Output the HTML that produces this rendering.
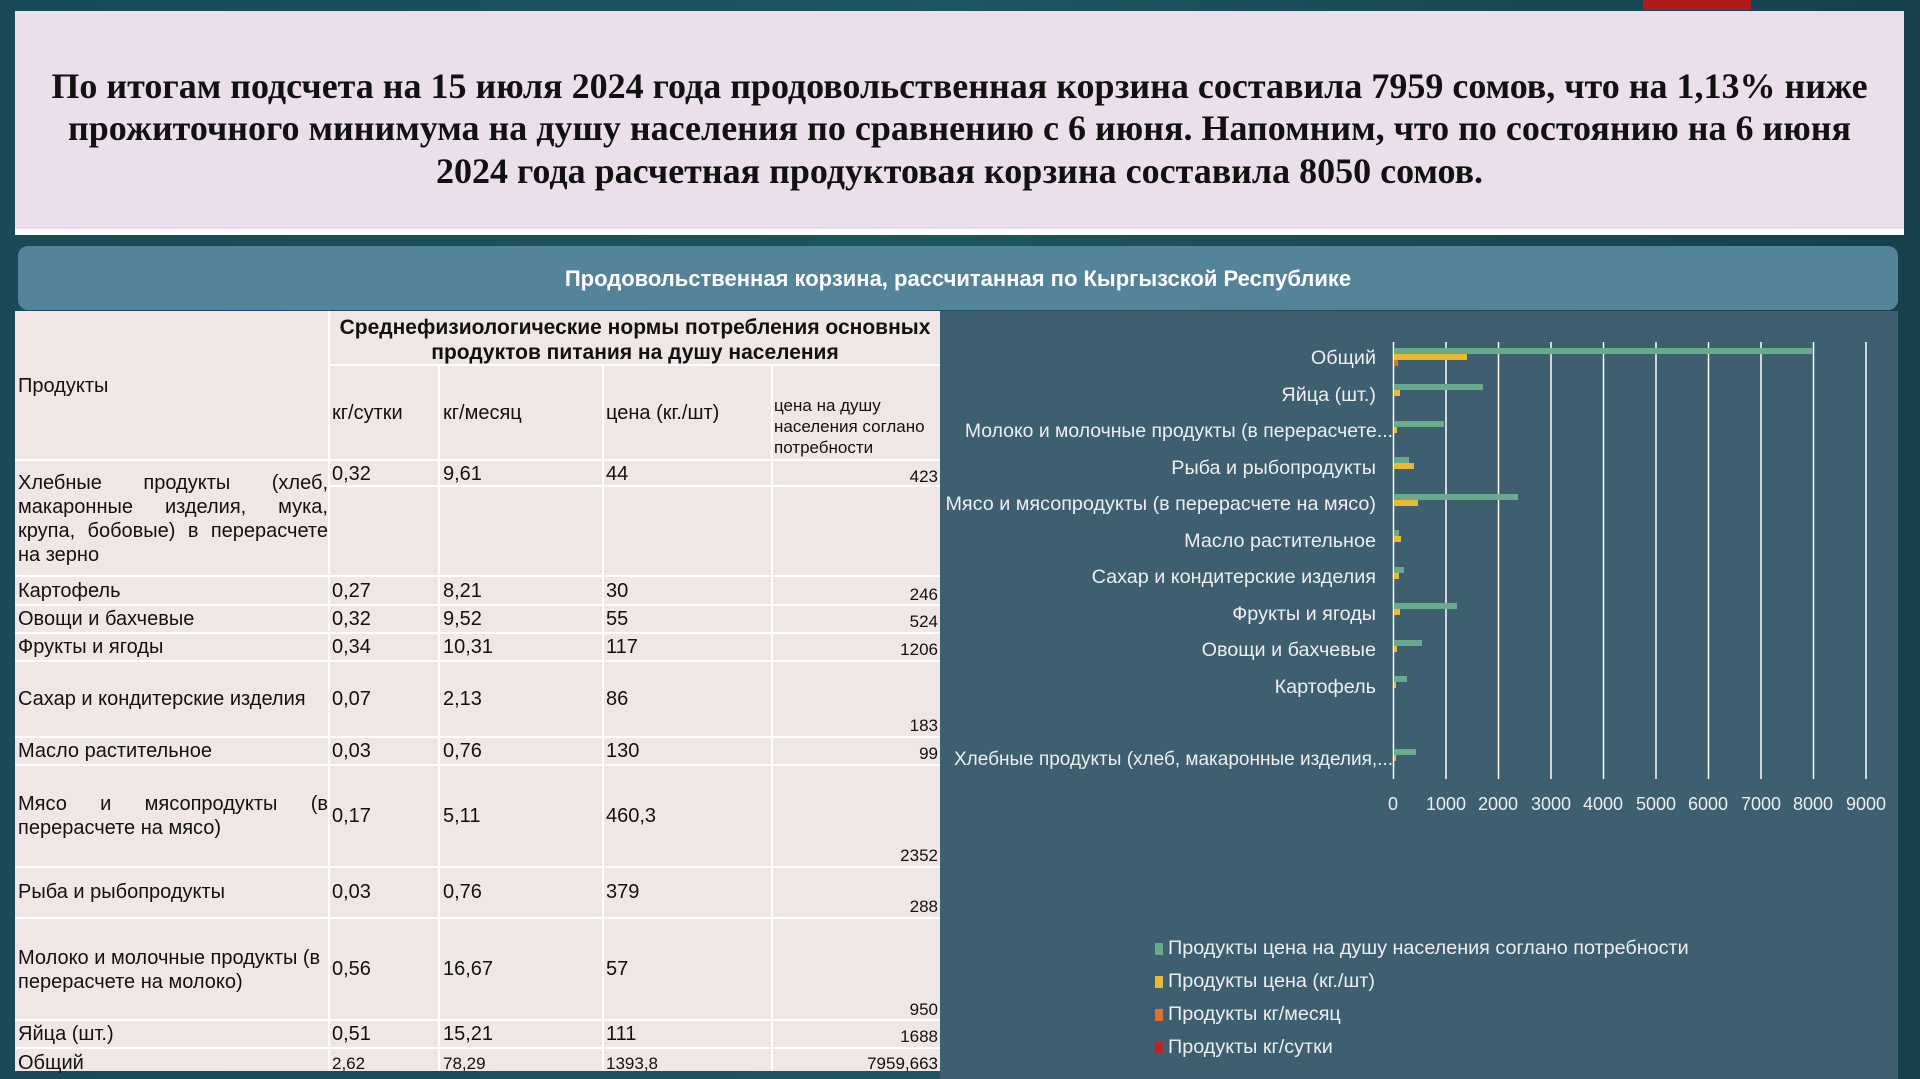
<!DOCTYPE html>
<html><head><meta charset="utf-8"><style>
*{margin:0;padding:0;box-sizing:border-box}
body{width:1920px;height:1079px;overflow:hidden;position:relative;background:linear-gradient(90deg,#184a58,#1d5560 50%,#163f4c);font-family:"Liberation Sans",sans-serif}
.a{position:absolute;white-space:nowrap}
#hdr{left:15px;top:11px;width:1889px;height:224px;background:#ebdfeb;border-bottom:6px solid #fff}
#hdr div{position:absolute;left:0;width:100%;text-align:center;font:bold 36px "Liberation Serif",serif;color:#111}
#band{left:18px;top:246px;width:1880px;height:64px;background:#548499;border-radius:10px;color:#fff;font:bold 22px "Liberation Sans",sans-serif;text-align:center;line-height:66px}
#tbl{left:15px;top:311px;width:925px;height:760px;background:#f0e6e6}
.t{position:absolute;font-size:20px;color:#111;white-space:nowrap}
.hl{position:absolute;background:#fff;height:2px}
.vl{position:absolute;background:#fff;width:2px}
#chart{left:940px;top:311px;width:958px;height:768px;background:#3d5f70}
.cl{position:absolute;right:544px;font-size:19.8px;color:#eee;text-align:right;white-space:nowrap}
.lg{position:absolute;left:1168px;font-size:19.8px;color:#eee;white-space:nowrap}
.mk{position:absolute;left:1155px;width:8px;height:12px}
</style></head><body>
<div class="a" style="left:1643px;top:0;width:108px;height:10px;background:#b01a1a"></div>
<div class="a" id="hdr">
<div style="top:54px">По итогам подсчета на 15 июля 2024 года продовольственная корзина составила 7959 сомов, что на 1,13% ниже</div>
<div style="top:96px">прожиточного минимума на душу населения по сравнению с 6 июня. Напомним, что по состоянию на 6 июня</div>
<div style="top:139px">2024 года расчетная продуктовая корзина составила 8050 сомов.</div>
</div>
<div class="a" id="band">Продовольственная корзина, рассчитанная по Кыргызской Республике</div>
<div class="a" id="tbl"></div>
<div class="a" id="chart"></div>
<div class="hl" style="left:328px;top:364px;width:612px"></div>
<div class="hl" style="left:15px;top:459px;width:925px"></div>
<div class="hl" style="left:328px;top:485px;width:612px"></div>
<div class="hl" style="left:15px;top:575px;width:925px"></div>
<div class="hl" style="left:15px;top:604px;width:925px"></div>
<div class="hl" style="left:15px;top:632px;width:925px"></div>
<div class="hl" style="left:15px;top:660px;width:925px"></div>
<div class="hl" style="left:15px;top:736px;width:925px"></div>
<div class="hl" style="left:15px;top:764px;width:925px"></div>
<div class="hl" style="left:15px;top:866px;width:925px"></div>
<div class="hl" style="left:15px;top:917px;width:925px"></div>
<div class="hl" style="left:15px;top:1019px;width:925px"></div>
<div class="hl" style="left:15px;top:1047px;width:925px"></div>
<div class="vl" style="left:328px;top:311px;height:760px"></div>
<div class="vl" style="left:438px;top:365px;height:706px"></div>
<div class="vl" style="left:602px;top:365px;height:706px"></div>
<div class="vl" style="left:771px;top:365px;height:706px"></div>
<div class="t" style="left:330px;top:315px;width:610px;text-align:center;font-weight:bold;font-size:21px;line-height:25px">Среднефизиологические нормы потребления основных<br>продуктов питания на душу населения</div>
<div class="t" style="left:18px;top:375px">Продукты</div>
<div class="t" style="left:332px;top:402px">кг/сутки</div>
<div class="t" style="left:443px;top:402px">кг/месяц</div>
<div class="t" style="left:606px;top:402px">цена (кг./шт)</div>
<div class="t" style="left:774px;top:395px;font-size:17px;line-height:21px">цена на душу<br>населения соглано<br>потребности</div>
<div class="t" style="left:18px;top:471px;width:310px;line-height:24px;white-space:normal;text-align:justify;text-align-last:left">Хлебные продукты (хлеб, макаронные изделия, мука, крупа, бобовые) в перерасчете на зерно</div>
<div class="t" style="left:332px;top:463px">0,32</div><div class="t" style="left:443px;top:463px">9,61</div><div class="t" style="left:606px;top:463px">44</div><div class="t" style="right:982px;top:467px;font-size:17px">423</div>
<div class="t" style="left:18px;top:580px">Картофель</div><div class="t" style="left:332px;top:580px">0,27</div><div class="t" style="left:443px;top:580px">8,21</div><div class="t" style="left:606px;top:580px">30</div><div class="t" style="right:982px;top:585px;font-size:17px">246</div>
<div class="t" style="left:18px;top:608px">Овощи и бахчевые</div><div class="t" style="left:332px;top:608px">0,32</div><div class="t" style="left:443px;top:608px">9,52</div><div class="t" style="left:606px;top:608px">55</div><div class="t" style="right:982px;top:612px;font-size:17px">524</div>
<div class="t" style="left:18px;top:636px">Фрукты и ягоды</div><div class="t" style="left:332px;top:636px">0,34</div><div class="t" style="left:443px;top:636px">10,31</div><div class="t" style="left:606px;top:636px">117</div><div class="t" style="right:982px;top:640px;font-size:17px">1206</div>
<div class="t" style="left:18px;top:688px">Сахар и кондитерские изделия</div><div class="t" style="left:332px;top:688px">0,07</div><div class="t" style="left:443px;top:688px">2,13</div><div class="t" style="left:606px;top:688px">86</div><div class="t" style="right:982px;top:716px;font-size:17px">183</div>
<div class="t" style="left:18px;top:740px">Масло растительное</div><div class="t" style="left:332px;top:740px">0,03</div><div class="t" style="left:443px;top:740px">0,76</div><div class="t" style="left:606px;top:740px">130</div><div class="t" style="right:982px;top:744px;font-size:17px">99</div>
<div class="t" style="left:18px;top:792px;width:310px;line-height:24px;white-space:normal;text-align:justify;text-align-last:left">Мясо и мясопродукты (в перерасчете на мясо)</div>
<div class="t" style="left:332px;top:805px">0,17</div><div class="t" style="left:443px;top:805px">5,11</div><div class="t" style="left:606px;top:805px">460,3</div><div class="t" style="right:982px;top:846px;font-size:17px">2352</div>
<div class="t" style="left:18px;top:881px">Рыба и рыбопродукты</div><div class="t" style="left:332px;top:881px">0,03</div><div class="t" style="left:443px;top:881px">0,76</div><div class="t" style="left:606px;top:881px">379</div><div class="t" style="right:982px;top:897px;font-size:17px">288</div>
<div class="t" style="left:18px;top:946px;width:320px;line-height:24px;white-space:normal">Молоко и молочные продукты (в перерасчете на молоко)</div>
<div class="t" style="left:332px;top:958px">0,56</div><div class="t" style="left:443px;top:958px">16,67</div><div class="t" style="left:606px;top:958px">57</div><div class="t" style="right:982px;top:1000px;font-size:17px">950</div>
<div class="t" style="left:18px;top:1023px">Яйца (шт.)</div><div class="t" style="left:332px;top:1023px">0,51</div><div class="t" style="left:443px;top:1023px">15,21</div><div class="t" style="left:606px;top:1023px">111</div><div class="t" style="right:982px;top:1027px;font-size:17px">1688</div>
<div class="t" style="left:18px;top:1052px">Общий</div><div class="t" style="left:332px;top:1054px;font-size:17px">2,62</div><div class="t" style="left:443px;top:1054px;font-size:17px">78,29</div><div class="t" style="left:606px;top:1054px;font-size:17px">1393,8</div><div class="t" style="right:982px;top:1054px;font-size:17px">7959,663</div>
<svg class="a" style="left:0;top:0" width="1920" height="1079">
<g stroke="#fff" stroke-width="1.5">
<line x1="1393.5" y1="342" x2="1393.5" y2="779"/><line x1="1446" y1="342" x2="1446" y2="779"/><line x1="1498.5" y1="342" x2="1498.5" y2="779"/><line x1="1551" y1="342" x2="1551" y2="779"/><line x1="1603.5" y1="342" x2="1603.5" y2="779"/><line x1="1656" y1="342" x2="1656" y2="779"/><line x1="1708.5" y1="342" x2="1708.5" y2="779"/><line x1="1761" y1="342" x2="1761" y2="779"/><line x1="1813.5" y1="342" x2="1813.5" y2="779"/><line x1="1866" y1="342" x2="1866" y2="779"/>
</g>
<g font-family="Liberation Sans" font-size="18" fill="#eee" text-anchor="middle">
<text x="1393" y="810">0</text><text x="1446" y="810">1000</text><text x="1498" y="810">2000</text><text x="1551" y="810">3000</text><text x="1603" y="810">4000</text><text x="1656" y="810">5000</text><text x="1708" y="810">6000</text><text x="1761" y="810">7000</text><text x="1813" y="810">8000</text><text x="1866" y="810">9000</text>
</g>
<g>
<rect x="1394" y="348" width="418" height="6" fill="#6aaa8c"/><rect x="1394" y="354" width="73" height="6" fill="#e9b92f"/><rect x="1394" y="360" width="4" height="6" fill="#e2702a"/>
<rect x="1394" y="384" width="89" height="6" fill="#6aaa8c"/><rect x="1394" y="390" width="6" height="6" fill="#e9b92f"/>
<rect x="1394" y="421" width="50" height="6" fill="#6aaa8c"/><rect x="1394" y="427" width="3" height="6" fill="#e9b92f"/>
<rect x="1394" y="457" width="15" height="6" fill="#6aaa8c"/><rect x="1394" y="463" width="20" height="6" fill="#e9b92f"/>
<rect x="1394" y="494" width="124" height="6" fill="#6aaa8c"/><rect x="1394" y="500" width="24" height="6" fill="#e9b92f"/>
<rect x="1394" y="530" width="5" height="6" fill="#6aaa8c"/><rect x="1394" y="536" width="7" height="6" fill="#e9b92f"/>
<rect x="1394" y="567" width="10" height="6" fill="#6aaa8c"/><rect x="1394" y="573" width="5" height="6" fill="#e9b92f"/>
<rect x="1394" y="603" width="63" height="6" fill="#6aaa8c"/><rect x="1394" y="609" width="6" height="6" fill="#e9b92f"/>
<rect x="1394" y="640" width="28" height="6" fill="#6aaa8c"/><rect x="1394" y="646" width="3" height="6" fill="#e9b92f"/>
<rect x="1394" y="676" width="13" height="6" fill="#6aaa8c"/><rect x="1394" y="682" width="2" height="6" fill="#e9b92f"/>
<rect x="1394" y="749" width="22" height="6" fill="#6aaa8c"/><rect x="1394" y="755" width="2" height="6" fill="#e9b92f"/>
</g>
</svg>
<div class="cl" style="top:347px">Общий</div>
<div class="cl" style="top:384px">Яйца (шт.)</div>
<div class="cl" style="top:420px;right:527px;font-size:19.4px">Молоко и молочные продукты (в перерасчете...</div>
<div class="cl" style="top:457px">Рыба и рыбопродукты</div>
<div class="cl" style="top:493px">Мясо и мясопродукты (в перерасчете на мясо)</div>
<div class="cl" style="top:530px">Масло растительное</div>
<div class="cl" style="top:566px">Сахар и кондитерские изделия</div>
<div class="cl" style="top:603px">Фрукты и ягоды</div>
<div class="cl" style="top:639px">Овощи и бахчевые</div>
<div class="cl" style="top:676px">Картофель</div>
<div class="cl" style="top:749px;right:527px;font-size:19px">Хлебные продукты (хлеб, макаронные изделия,...</div>
<div class="mk" style="top:943px;background:#6aaa8c"></div><div class="lg" style="top:937px">Продукты цена на душу населения соглано потребности</div>
<div class="mk" style="top:976px;background:#e9b92f"></div><div class="lg" style="top:970px">Продукты цена (кг./шт)</div>
<div class="mk" style="top:1009px;background:#e2702a"></div><div class="lg" style="top:1003px">Продукты кг/месяц</div>
<div class="mk" style="top:1042px;background:#c0202a"></div><div class="lg" style="top:1036px">Продукты кг/сутки</div>
</body></html>
